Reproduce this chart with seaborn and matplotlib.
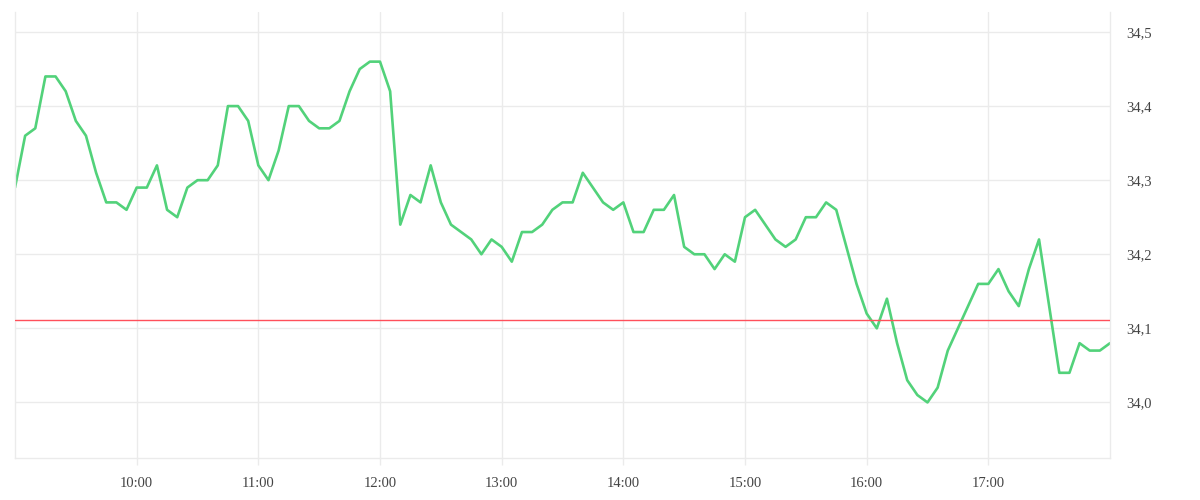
import numpy as np
import pandas as pd
import matplotlib
matplotlib.use("Agg")
import matplotlib.pyplot as plt
import matplotlib.dates as mdates
import seaborn as sns

# ---- data ----
start_time = "2024-01-01 09:00"
step = "5min"
prices = [
    34.29, 34.36, 34.37, 34.44, 34.44, 34.42, 34.38, 34.36, 34.31, 34.27,
    34.27, 34.26, 34.29, 34.29, 34.32, 34.26, 34.25, 34.29, 34.30, 34.30,
    34.32, 34.40, 34.40, 34.38, 34.32, 34.30, 34.34, 34.40, 34.40, 34.38,
    34.37, 34.37, 34.38, 34.42, 34.45, 34.46, 34.46, 34.42, 34.24, 34.28,
    34.27, 34.32, 34.27, 34.24, 34.23, 34.22, 34.20, 34.22, 34.21, 34.19,
    34.23, 34.23, 34.24, 34.26, 34.27, 34.27, 34.31, 34.29, 34.27, 34.26,
    34.27, 34.23, 34.23, 34.26, 34.26, 34.28, 34.21, 34.20, 34.20, 34.18,
    34.20, 34.19, 34.25, 34.26, 34.24, 34.22, 34.21, 34.22, 34.25, 34.25,
    34.27, 34.26, 34.21, 34.16, 34.12, 34.10, 34.14, 34.08, 34.03, 34.01,
    34.00, 34.02, 34.07, 34.10, 34.13, 34.16, 34.16, 34.18, 34.15, 34.13,
    34.18, 34.22, 34.13, 34.04, 34.04, 34.08, 34.07, 34.07, 34.08,
]
reference_price = 34.111
y_ticks = [34.0, 34.1, 34.2, 34.3, 34.4, 34.5]
y_tick_labels = ["34,0", "34,1", "34,2", "34,3", "34,4", "34,5"]
x_tick_hours = ["10:00", "11:00", "12:00", "13:00", "14:00", "15:00", "16:00", "17:00"]

times = pd.date_range(start_time, periods=len(prices), freq=step)
df = pd.DataFrame({"time": times, "price": prices})

sns.set_theme(style="white")
plt.rcParams["font.family"] = ["Liberation Serif", "DejaVu Sans"]

fig = plt.figure(figsize=(12, 5), dpi=100)
ax = fig.add_axes([15 / 1200, 42 / 500, (1110 - 15) / 1200, (458 - 12) / 500])

grid_c = "#ebebeb"
sns.lineplot(data=df, x="time", y="price", ax=ax, color="#52d27a", linewidth=1.9)
ax.axhline(reference_price, color="#ff4f5a", linewidth=1.0, zorder=3)

ax.set_xlim(times[0], times[-1])
ax.set_ylim(33.925, 34.527)

ax.yaxis.tick_right()
ax.set_yticks(y_ticks)
ax.set_yticklabels(y_tick_labels)
xt = [pd.Timestamp("2024-01-01 " + h) for h in x_tick_hours]
ax.set_xticks(xt)
ax.set_xticklabels(x_tick_hours)

ax.grid(True, color=grid_c, linewidth=1.0)
ax.set_axisbelow(True)
ax.spines["top"].set_visible(False)
for s in ["left", "right", "bottom"]:
    ax.spines[s].set_color(grid_c)
    ax.spines[s].set_linewidth(1.0)

ax.tick_params(axis="y", length=0, pad=12, labelsize=10.5, labelcolor="#444444")
ax.tick_params(axis="x", length=5, width=1.0, color=grid_c, pad=9,
               labelsize=10.5, labelcolor="#444444", bottom=True)
ax.set_xlabel("")
ax.set_ylabel("")

fig.savefig("out.png", dpi=100)
